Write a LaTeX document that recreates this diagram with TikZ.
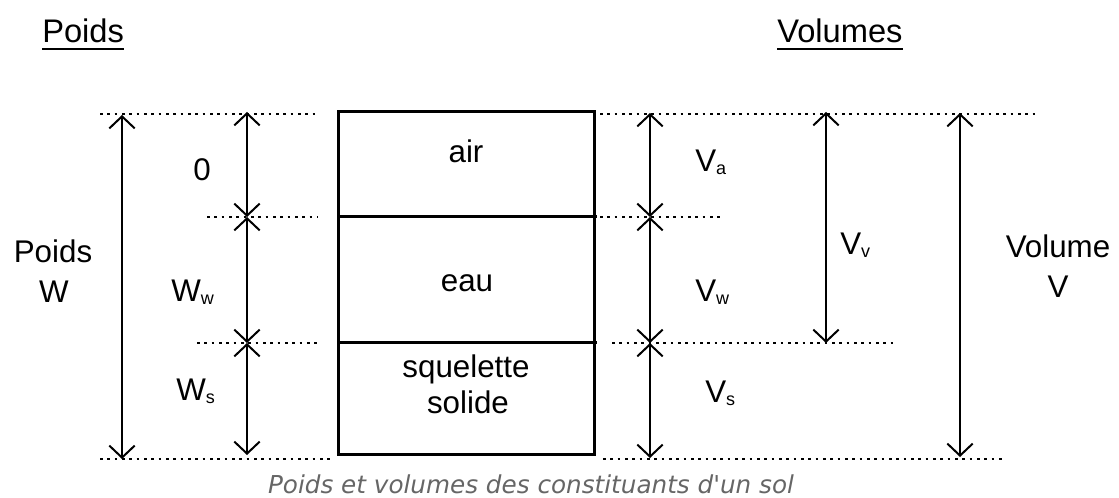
\documentclass[tikz,border=0pt]{standalone}
\usepackage{fontspec}
\setmainfont{Liberation Sans}
\newfontfamily\capfont{DejaVu Sans}
\usetikzlibrary{arrows.meta,calc}
\definecolor{capgray}{HTML}{666666}
\newcommand{\mysub}[1]{\raisebox{-2.25pt}{\fontsize{13.5pt}{14pt}\selectfont #1}}
\begin{document}
\begin{tikzpicture}[x=0.75pt,y=-0.75pt,
  lbl/.style={inner sep=0pt, font=\fontsize{23.5pt}{26pt}\selectfont},
  hdr/.style={inner sep=0pt, font=\fontsize{24.5pt}{28pt}\selectfont},
  dim/.style={line width=1.5pt, {Straight Barb[length=9pt,width=19pt]}-{Straight Barb[length=9pt,width=19pt]}},
  guide/.style={line width=1.2pt, dash pattern=on 2pt off 3.5pt},
  wall/.style={line width=2.25pt},
  captext/.style={inner sep=0pt, text=capgray, font=\capfont\itshape\fontsize{18.5pt}{22pt}\selectfont}]
\useasboundingbox (0,0) rectangle (1119,498);

% headers
\node[hdr, anchor=base west] (hP) at (42,43) {Poids};
\node[hdr, anchor=base west] (hV) at (777,43) {Volumes};
\draw[line width=1.5pt] ($(hP.base west)+(0,6)$) -- ($(hP.base east)+(0,6)$);
\draw[line width=1.5pt] ($(hV.base west)+(0,6)$) -- ($(hV.base east)+(0,6)$);

% guide lines
\coordinate (g0l) at (100,114); \coordinate (g0m) at (318,114);
\coordinate (g0r) at (600,114); \coordinate (g0e) at (1035,114);
\coordinate (g1l) at (207,217); \coordinate (g1m) at (318,217);
\coordinate (g1r) at (600,217); \coordinate (g1e) at (723,217);
\coordinate (g2l) at (197,343); \coordinate (g2m) at (318,343);
\coordinate (g2r) at (612,343); \coordinate (g2e) at (897,343);
\coordinate (g3l) at (100,459); \coordinate (g3m) at (330,459);
\coordinate (g3r) at (603,459); \coordinate (g3e) at (1003,459);
\draw[guide] (g0l) -- (g0m); \draw[guide] (g0r) -- (g0e);
\draw[guide] (g1l) -- (g1m); \draw[guide] (g1r) -- (g1e);
\draw[guide] (g2l) -- (g2m); \draw[guide] (g2r) -- (g2e);
\draw[guide] (g3l) -- (g3m); \draw[guide] (g3r) -- (g3e);

% soil column
\coordinate (bTL) at (338,112); \coordinate (bBR) at (594,454);
\draw[wall] (bTL) rectangle (bBR);
\draw[wall] (338,217) -- (597,217);
\draw[wall] (338,343) -- (597,343);
\node[lbl, anchor=base] (air) at (466,163) {air};
\node[lbl, anchor=base] (eau) at (467,292) {eau};
\node[lbl, anchor=base] (sq) at (466,378) {squelette};
\node[lbl, anchor=base] (so) at (468,413) {solide};

% dimension arrows: weights
\coordinate (pT) at (122,115); \coordinate (pB) at (122,459);
\coordinate (wT) at (247,112); \coordinate (w1) at (247,217);
\coordinate (w2) at (247,343); \coordinate (wB) at (247,455);
\draw[dim] (pT) -- (pB);
\draw[dim] (wT) -- (w1);
\draw[dim] (w1) -- (w2);
\draw[dim] (w2) -- (wB);

% dimension arrows: volumes
\coordinate (vT) at (650,113); \coordinate (v1) at (650,217);
\coordinate (v2) at (650,343); \coordinate (vB) at (650,458);
\coordinate (vvT) at (826,112); \coordinate (vvB) at (826,343);
\coordinate (VT) at (960,113); \coordinate (VB) at (960,457);
\draw[dim] (vT) -- (v1);
\draw[dim] (v1) -- (v2);
\draw[dim] (v2) -- (vB);
\draw[dim] (vvT) -- (vvB);
\draw[dim] (VT) -- (VB);

% labels
\node[lbl, anchor=base] (lP) at (53,263) {Poids};
\node[lbl, anchor=base] (lW) at (54,303) {W};
\node[lbl, anchor=base] (lVol) at (1058,258) {Volume};
\node[lbl, anchor=base] (lV) at (1058,298) {V};
\node[lbl, anchor=base west] (zero) at (193,181) {0};
\node[lbl, anchor=base west] (Ww) at (171,302) {W\mysub{w}};
\node[lbl, anchor=base west] (Ws) at (176,400) {W\mysub{s}};
\node[lbl, anchor=base west] (Va) at (695,172) {V\mysub{a}};
\node[lbl, anchor=base west] (Vw) at (695,302) {V\mysub{w}};
\node[lbl, anchor=base west] (Vs) at (705,402) {V\mysub{s}};
\node[lbl, anchor=base west] (Vv) at (840,255) {V\mysub{v}};

% caption
\node[captext, anchor=base] (caption) at (531,493) {Poids et volumes des constituants d'un sol};
\end{tikzpicture}
\end{document}
